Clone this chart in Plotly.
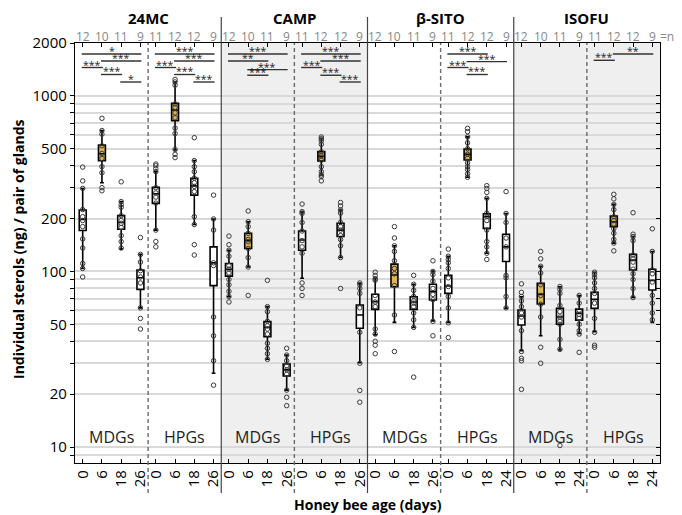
import math
import plotly.graph_objects as go

# ---------------- data ----------------
sterols = ["24MC", "CAMP", "β-SITO", "ISOFU"]
glands = ["MDGs", "HPGs"]
n_counts = [12, 10, 11, 9, 11, 12, 12, 9]

ages_24MC = ["0", "6", "18", "26", "0", "6", "18", "26"]
ages_CAMP = ["0", "6", "18", "26", "0", "6", "18", "26"]
ages_SITO = ["0", "6", "18", "26", "0", "6", "18", "24"]
ages_ISOFU = ["0", "6", "18", "24", "0", "6", "18", "24"]

# box statistics, order: MDGs age0..3, HPGs age0..3
q1_24MC = [171, 427, 174, 79, 244, 722, 272, 83]
med_24MC = [198, 468, 190, 92, 277, 830, 307, 112]
q3_24MC = [224, 525, 208, 102, 301, 906, 339, 138]
lo_24MC = [104, 320, 134, 62, 172, 492, 185, 26.3]
hi_24MC = [297, 634, 250, 125, 370, 1200, 428, 199]

q1_CAMP = [94, 135, 42.5, 25.4, 132, 426, 158, 47.5]
med_CAMP = [103, 150, 48, 27.5, 151, 452, 172, 56.5]
q3_CAMP = [111, 165, 51.8, 29.7, 170, 481, 188, 64.4]
lo_CAMP = [71.8, 106, 31.6, 21.1, 91.4, 354, 120, 30.2]
hi_CAMP = [132, 192, 63, 33.4, 219, 573, 224, 85.5]

q1_SITO = [60.8, 81.8, 60.8, 68.7, 75, 431, 176, 114]
med_SITO = [67.3, 95.5, 67, 76.7, 82.6, 464, 205, 138]
q3_SITO = [74.1, 110, 71.8, 84.5, 95, 498, 213, 163]
lo_SITO = [43.5, 51.3, 47.9, 52.3, 51.3, 344, 127, 61.7]
hi_SITO = [91.4, 140, 84.5, 100.6, 122, 584, 261, 214]

q1_ISOFU = [49.5, 65.3, 50, 52.8, 61.6, 180, 102, 78.4]
med_ISOFU = [55.7, 74, 55, 57.7, 69.3, 192, 116, 89]
q3_ISOFU = [60.3, 85.5, 61.6, 61, 76, 207, 125, 103]
lo_ISOFU = [35.4, 43, 35.7, 44.4, 45.4, 145, 71.2, 51.3]
hi_ISOFU = [71.8, 107, 81.8, 72.8, 99, 241, 158, 130]

pts_24MC = [
    [393, 328, 297, 225, 205, 195, 180, 153, 136, 111, 104, 93],
    [745, 635, 605, 520, 470, 440, 395, 365, 300, 288],
    [324, 250, 240, 232, 208, 195, 188, 178, 160, 148, 136],
    [156, 125, 113, 101, 93, 86, 62, 54, 47],
    [409, 400, 385, 370, 300, 280, 265, 245, 172, 148, 138],
    [1240, 1200, 1150, 900, 860, 800, 750, 655, 610, 495, 465, 445],
    [578, 428, 395, 370, 340, 320, 305, 285, 205, 185, 142, 124],
    [272, 199, 172, 112, 108, 55, 43, 31, 22.5],
]
pts_CAMP = [
    [159, 142, 132, 122, 108, 103, 98, 90, 84, 77, 72, 67],
    [221, 192, 180, 165, 152, 148, 135, 120, 106, 73],
    [89, 63, 59, 52, 49, 47, 44, 39, 36.5, 34, 31.6],
    [36.5, 33.4, 31, 29, 27.5, 26, 21.1, 19.2, 17.2],
    [242, 219, 214, 190, 170, 150, 138, 127, 86, 80, 73],
    [583, 570, 555, 530, 480, 455, 430, 395, 370, 354, 347, 328],
    [247, 236, 224, 215, 190, 180, 172, 160, 152, 140, 120, 80],
    [86, 84, 80, 75, 62, 45, 30, 21, 18],
]
pts_SITO = [
    [99, 95, 91, 89, 73, 67, 63, 47, 44, 40, 38, 34],
    [180, 155, 140, 130, 115, 104, 97, 83, 56.5, 35],
    [95, 84.5, 78, 72, 68, 66, 63, 58, 53, 48, 25],
    [115, 100, 96, 88, 80, 74, 69, 52, 43],
    [134, 122, 117, 112, 104, 92, 82, 72, 62, 51, 42],
    [653, 625, 584, 540, 500, 465, 440, 415, 395, 380, 360, 344],
    [308, 297, 282, 261, 215, 205, 195, 172, 148, 138, 127, 117],
    [285, 214, 190, 155, 138, 95, 92, 72, 62],
]
pts_ISOFU = [
    [85, 76, 72, 68, 63, 58, 55, 46, 35, 32, 31, 21.3],
    [130, 118, 107, 98, 84, 73, 65, 55, 37, 30],
    [82, 79, 75, 64, 59, 55, 52, 50, 41, 36, 10.2],
    [73, 66, 60, 57, 54, 50, 46, 44, 34.6],
    [99, 96, 92, 86, 80, 75, 66, 54, 45, 38, 37],
    [275, 259, 241, 225, 205, 195, 186, 175, 165, 152, 145, 131],
    [216, 163, 158, 150, 124, 118, 113, 103, 97, 90, 80, 71],
    [175, 130, 102, 97, 87, 73, 66, 58, 53],
]

# significance comparisons: (sterol index, gland index, from age idx, to age idx, label, level)
sig_24MC = [(0, 0, 0, 3, "*", 0), (0, 0, 1, 3, "***", 1), (0, 0, 0, 1, "***", 2), (0, 0, 1, 2, "***", 3), (0, 0, 2, 3, "*", 4),
            (0, 1, 0, 3, "***", 0), (0, 1, 1, 3, "***", 1), (0, 1, 0, 1, "***", 2), (0, 1, 1, 2, "***", 3), (0, 1, 2, 3, "***", 4)]
sig_CAMP = [(1, 0, 0, 3, "***", 0), (1, 0, 0, 2, "**", 1), (1, 0, 1, 3, "***", 2.3), (1, 0, 1, 2, "***", 3.1),
            (1, 1, 0, 3, "***", 0), (1, 1, 1, 3, "***", 1), (1, 1, 0, 1, "***", 2), (1, 1, 1, 2, "***", 3.1), (1, 1, 2, 3, "***", 4.1)]
sig_SITO = [(2, 1, 0, 2, "***", 0), (2, 1, 1, 3, "***", 1.1), (2, 1, 0, 1, "***", 2), (2, 1, 1, 2, "***", 3)]
sig_ISOFU = [(3, 1, 1, 3, "**", 0), (3, 1, 0, 1, "***", 0.9)]

# ---------------- assembly ----------------
stats = [
    (q1_24MC, med_24MC, q3_24MC, lo_24MC, hi_24MC, pts_24MC, ages_24MC),
    (q1_CAMP, med_CAMP, q3_CAMP, lo_CAMP, hi_CAMP, pts_CAMP, ages_CAMP),
    (q1_SITO, med_SITO, q3_SITO, lo_SITO, hi_SITO, pts_SITO, ages_SITO),
    (q1_ISOFU, med_ISOFU, q3_ISOFU, lo_ISOFU, hi_ISOFU, pts_ISOFU, ages_ISOFU),
]

HALF = 3.8
XMAX = HALF * 8
FONT = "Open Sans"
PLOT_TOP, PLOT_BOT = 43, 463   # in window pixels
OFF = 8                        # page body margin of the browser


def xpos(s, k):
    g, j = divmod(k, 4)
    return (2 * s + g) * HALF + 0.4 + j


def py(px):
    return (PLOT_BOT - px) / (PLOT_BOT - PLOT_TOP)


boxes = {True: dict(x=[], q1=[], median=[], q3=[], lowerfence=[], upperfence=[]),
         False: dict(x=[], q1=[], median=[], q3=[], lowerfence=[], upperfence=[])}
px_, py_ = [], []
tickvals, ticktext = [], []
for s, (q1, med, q3, lo, hi, pts, ages) in enumerate(stats):
    for k in range(8):
        x = xpos(s, k)
        gold = (k % 4 == 1)
        b = boxes[gold]
        b["x"].append(x)
        b["q1"].append(q1[k])
        b["median"].append(med[k])
        b["q3"].append(q3[k])
        b["lowerfence"].append(lo[k])
        b["upperfence"].append(hi[k])
        for v in pts[k]:
            px_.append(x)
            py_.append(v)
        tickvals.append(x)
        ticktext.append(ages[k])

fig = go.Figure()
for gold, fill in [(False, "white"), (True, "#dcb552")]:
    b = boxes[gold]
    fig.add_trace(go.Box(
        x=b["x"], q1=b["q1"], median=b["median"], q3=b["q3"],
        lowerfence=b["lowerfence"], upperfence=b["upperfence"],
        orientation="v", boxpoints=False, width=0.36, whiskerwidth=0.55,
        fillcolor=fill, line=dict(color="black", width=1.6), showlegend=False,
        hoverinfo="skip"))

fig.add_trace(go.Scatter(
    x=px_, y=py_, mode="markers", showlegend=False, hoverinfo="skip",
    marker=dict(symbol="circle-open", size=4.5, color="#3a3a3a", line=dict(width=1))))

fig.add_trace(go.Scatter(x=[], y=[], yaxis="y2", showlegend=False))

grid_vals = [9] + [d * 10 for d in range(1, 10)] + [d * 100 for d in range(1, 10)] + [1000, 2000]
grid_labels = {10: "10", 20: "20", 50: "50", 100: "100", 200: "200", 500: "500", 1000: "1000", 2000: "2000"}
grid_text = [grid_labels.get(v, "") for v in grid_vals]

shapes = []
annotations = []
# shaded panels
for s in (1, 3):
    shapes.append(dict(type="rect", xref="x", yref="paper", x0=2 * s * HALF, x1=2 * (s + 1) * HALF,
                       y0=0, y1=1, fillcolor="#efefef", line=dict(width=0), layer="below"))
# separators
for s in range(1, 4):
    shapes.append(dict(type="line", xref="x", yref="paper", x0=2 * s * HALF, x1=2 * s * HALF,
                       y0=py(493), y1=py(17), line=dict(color="#444444", width=1.2), layer="above"))
for s in range(4):
    xd = (2 * s + 1) * HALF
    shapes.append(dict(type="line", xref="x", yref="paper", x0=xd, x1=xd,
                       y0=py(493), y1=1, line=dict(color="#6a6a6a", width=1.4, dash="4px,3px"), layer="above"))

# significance bars
level_px = [54, 61, 67.5, 74.5, 82]
for sig in (sig_24MC, sig_CAMP, sig_SITO, sig_ISOFU):
    for (s, g, a, b, lab, lev) in sig:
        i0 = int(lev)
        frac = lev - i0
        ypx = level_px[i0] + (level_px[min(i0 + 1, 4)] - level_px[i0]) * frac if i0 < 4 else level_px[4]
        xa = xpos(s, g * 4 + a) - 0.05
        xb = xpos(s, g * 4 + b) + 0.05
        shapes.append(dict(type="line", xref="x", yref="paper", x0=xa, x1=xb, y0=py(ypx), y1=py(ypx),
                           line=dict(color="#333333", width=1.4), layer="above"))
        annotations.append(dict(xref="x", yref="paper", x=(xa + xb) / 2, y=py(ypx), text=lab,
                                showarrow=False, yanchor="middle", xanchor="center", yshift=3,
                                borderpad=0,
                                font=dict(family=FONT, size=10.5, color="#222222")))

# sterol titles, gland labels, n labels
for s, name in enumerate(sterols):
    annotations.append(dict(xref="x", yref="paper", x=(2 * s + 1) * HALF, y=py(18.5), text="<b>%s</b>" % name,
                            showarrow=False, yanchor="middle", borderpad=0,
                            font=dict(family=FONT, size=15, color="black")))
    for g, gl in enumerate(glands):
        annotations.append(dict(xref="x", yref="paper", x=(2 * s + g + 0.5) * HALF, y=py(437), text=gl,
                                showarrow=False, yanchor="middle", font=dict(family=FONT, size=16, color="#222222")))
    for k in range(8):
        annotations.append(dict(xref="x", yref="paper", x=xpos(s, k), y=py(36.2), text=str(n_counts[k]),
                                showarrow=False, yanchor="middle", borderpad=0,
                                font=dict(family=FONT, size=12, color="#888888")))
annotations.append(dict(xref="x", yref="paper", x=XMAX - 0.05, y=py(36.2), text="=n", xanchor="left",
                        showarrow=False, yanchor="middle", borderpad=0,
                        font=dict(family=FONT, size=12, color="#888888")))
annotations.append(dict(xref="paper", yref="paper", x=0.5, y=py(504), text="<b>Honey bee age (days)</b>",
                        showarrow=False, yanchor="middle", borderpad=0,
                        font=dict(family=FONT, size=14, color="black")))
annotations.append(dict(xref="paper", yref="paper", x=(18 - 75) / 585, y=py(250),
                        text="<b>Individual sterols (ng) / pair of glands</b>", textangle=-90,
                        showarrow=False, yanchor="middle", xanchor="center",
                        font=dict(family=FONT, size=14, color="black")))

yrange = [math.log10(8.11), math.log10(2000)]
W, H = 682 - OFF, 515 - OFF
fig.update_layout(
    width=W, height=H,
    margin=dict(l=75 - OFF, r=W - (660 - OFF), t=PLOT_TOP - OFF, b=H - (PLOT_BOT - OFF),
                autoexpand=False),
    paper_bgcolor="white", plot_bgcolor="white",
    font=dict(family=FONT, color="black"),
    shapes=shapes, annotations=annotations, showlegend=False,
    xaxis=dict(range=[0, XMAX], tickvals=tickvals, ticktext=ticktext, tickangle=-90,
               ticks="inside", ticklen=4, tickcolor="black", showline=True, linecolor="black",
               linewidth=1.3, mirror="ticks", showgrid=False, zeroline=False, automargin=False,
               tickfont=dict(family=FONT, size=15, color="black")),
    yaxis=dict(type="log", range=yrange, tickvals=grid_vals, ticktext=grid_text,
               showgrid=True, gridcolor="#d9d9d9", gridwidth=1.5, ticks="outside", ticklen=4,
               tickcolor="black", showline=True, linecolor="black", linewidth=1.3, mirror=True,
               zeroline=False, automargin=False, tickfont=dict(family=FONT, size=15, color="black")),
    yaxis2=dict(type="log", range=yrange, overlaying="y", side="right", tickvals=grid_vals,
                showticklabels=False, ticks="inside", ticklen=4, tickcolor="black",
                showgrid=False, showline=False, zeroline=False),
)

fig.write_html("out.html")
